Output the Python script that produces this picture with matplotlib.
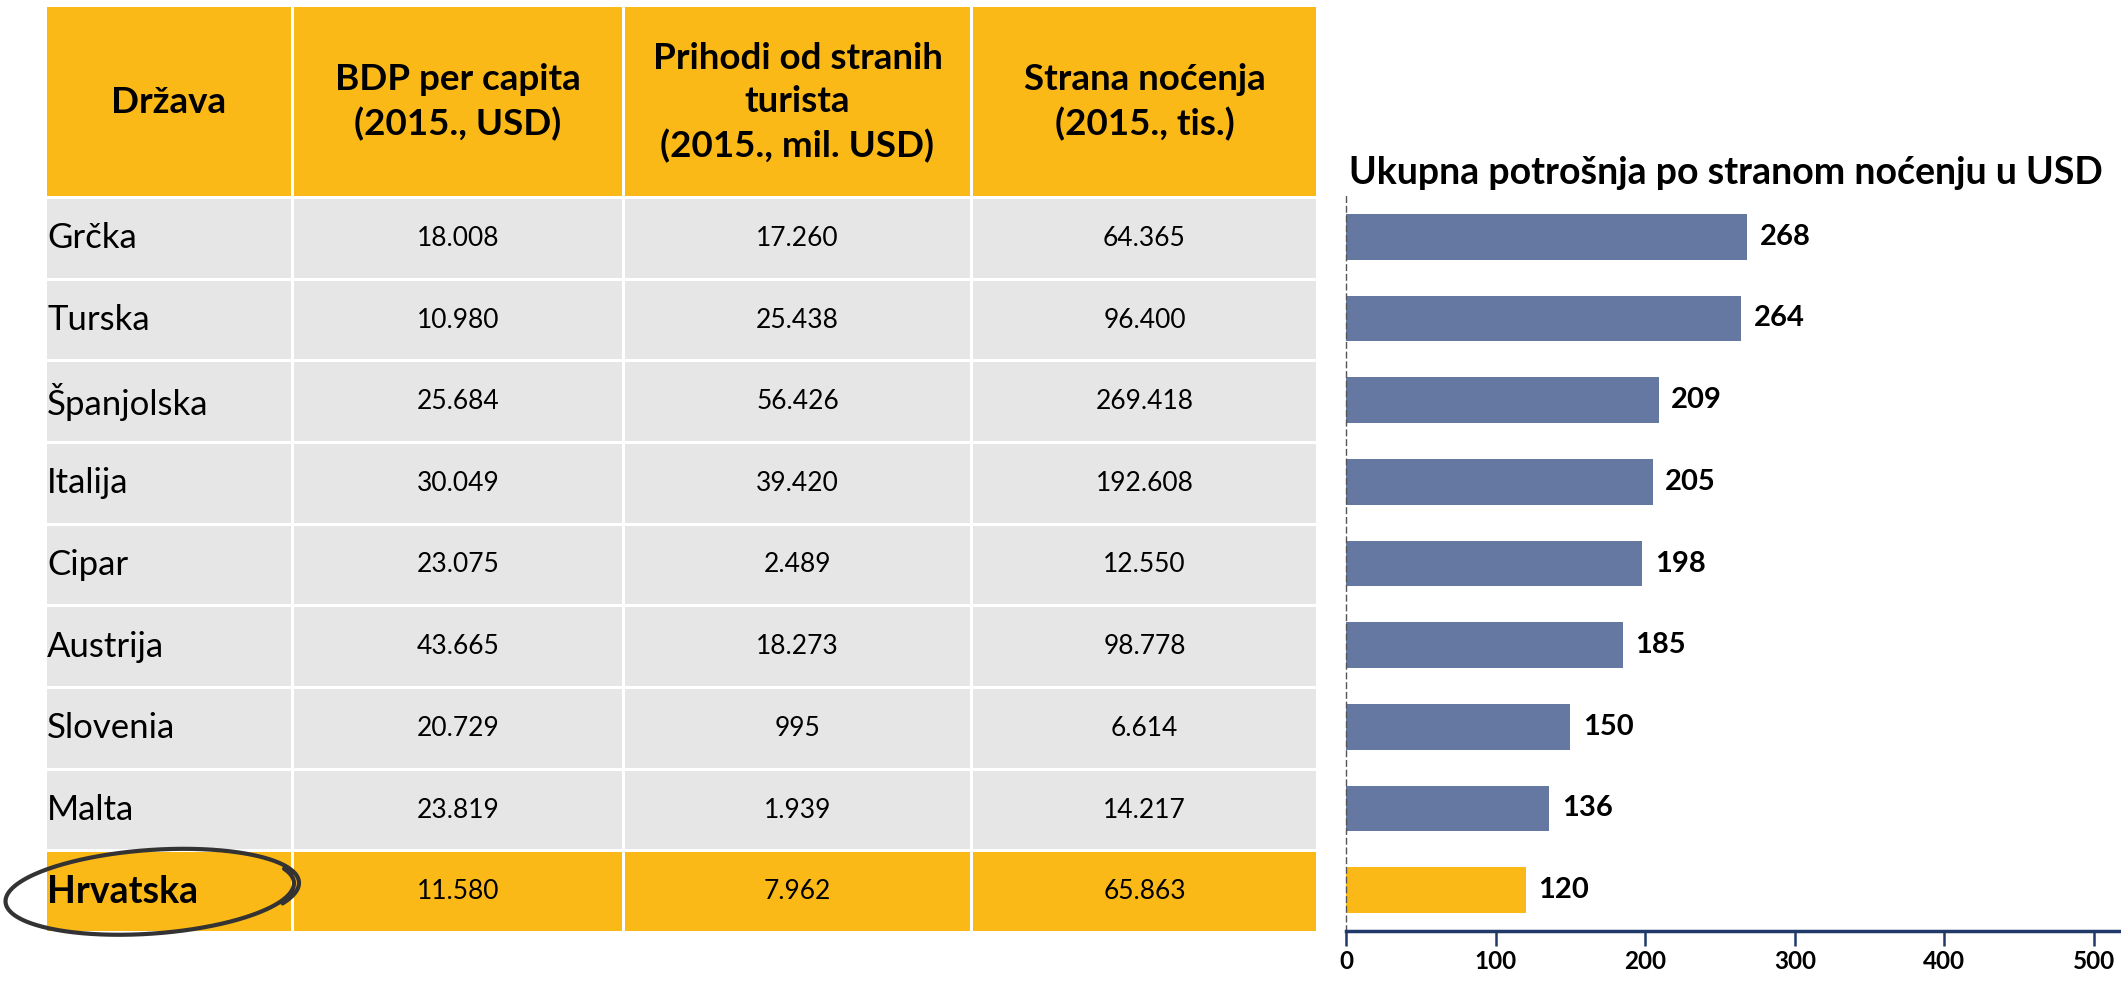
"""
Tourism table + bar chart of spending per foreign overnight stay.
Saves: out.png
"""

import numpy as np
import matplotlib.pyplot as plt
from matplotlib.patches import Rectangle

plt.rcParams["font.family"] = ["Lato", "DejaVu Sans"]

# ── data ──────────────────────────────────────────────────────────────────────
countries = ["Grčka", "Turska", "Španjolska", "Italija", "Cipar",
             "Austrija", "Slovenia", "Malta", "Hrvatska"]
gdp_pc    = [18008, 10980, 25684, 30049, 23075, 43665, 20729, 23819, 11580]
revenue   = [17260, 25438, 56426, 39420, 2489, 18273, 995, 1939, 7962]
nights    = [64365, 96400, 269418, 192608, 12550, 98778, 6614, 14217, 65863]
spend     = [268, 264, 209, 205, 198, 185, 150, 136, 120]

headers = ["Država",
           "BDP per capita\n(2015., USD)",
           "Prihodi od stranih\nturista\n(2015., mil. USD)",
           "Strana noćenja\n(2015., tis.)"]
chart_title = "Ukupna potrošnja po stranom noćenju u USD"
x_ticks = [0, 100, 200, 300, 400, 500]

# ── colours ───────────────────────────────────────────────────────────────────
YELLOW = "#FBB917"
GREY   = "#E6E6E6"
BAR    = "#6578A2"
NAVY   = "#1F3A68"

W, H = 2121, 981
fig = plt.figure(figsize=(W / 100, H / 100), dpi=100)

# ── table, drawn in pixel coordinates ─────────────────────────────────────────
ax_t = fig.add_axes([0, 0, 1, 1])
ax_t.set_xlim(0, W)
ax_t.set_ylim(H, 0)
ax_t.axis("off")

col_edges = [47, 291, 622, 970, 1316]
head_top, head_bot = 7, 196
row_h = (931 - head_bot) / len(countries)
GAP = 3


def fmt(v):
    return f"{v:,}".replace(",", ".")


# header
for c in range(4):
    x0, x1 = col_edges[c] + (GAP if c else 0), col_edges[c + 1]
    ax_t.add_patch(Rectangle((x0, head_top), x1 - x0, head_bot - head_top,
                             fc=YELLOW, ec="none"))
    ax_t.text((x0 + x1) / 2, (head_top + head_bot) / 2 + 1, headers[c],
              ha="center", va="center", fontsize=26.5, fontweight="bold",
              linespacing=1.38)

# body rows
for i, name in enumerate(countries):
    last = i == len(countries) - 1
    y0 = head_bot + GAP + i * row_h
    y1 = head_bot + (i + 1) * row_h
    fc = YELLOW if last else GREY
    cells = [name, fmt(gdp_pc[i]), fmt(revenue[i]), fmt(nights[i])]
    for c in range(4):
        x0, x1 = col_edges[c] + (GAP if c else 0), col_edges[c + 1]
        ax_t.add_patch(Rectangle((x0, y0), x1 - x0, y1 - y0, fc=fc, ec="none"))
        ym = (y0 + y1) / 2
        if c == 0:
            ax_t.text(x0, ym, cells[c], ha="left", va="center",
                      fontsize=27 if last else 25,
                      fontweight="bold" if last else "normal")
        else:
            ax_t.text((x0 + x1) / 2, ym, cells[c], ha="center", va="center",
                      fontsize=19)

# hand-drawn ring round the highlighted country
cx, cy = 151, head_bot + 8.5 * row_h + 2
t = np.linspace(-0.35, 2 * np.pi + 0.5, 300)
grow = 1 + 0.04 * (t - t[0]) / (t[-1] - t[0])
rot = np.deg2rad(-4)
ex = 143 * grow * np.cos(t)
ey = 41 * grow * np.sin(t)
ax_t.plot(cx + ex * np.cos(rot) - ey * np.sin(rot),
          cy + ex * np.sin(rot) + ey * np.cos(rot),
          color="#333333", lw=3, solid_capstyle="round", zorder=5)

# ── bar chart ─────────────────────────────────────────────────────────────────
left, right, top, bot = 1346, W, 196, 931
ax = fig.add_axes([left / W, 1 - bot / H, (right - left) / W, (bot - top) / H])
ax.patch.set_alpha(0)

y = np.arange(len(spend))
colors = [BAR] * (len(spend) - 1) + [YELLOW]
bars = ax.barh(y, spend, height=0.56, color=colors)
for b, v in zip(bars, spend):
    ax.annotate(str(v), (b.get_width(), b.get_y() + b.get_height() / 2),
                xytext=(9, 0), textcoords="offset points",
                ha="left", va="center", fontsize=21, fontweight="bold")

ax.set_ylim(len(spend) - 0.5, -0.5)
ax.set_xlim(0, (right - left) / 1.496)
ax.set_yticks([])
ax.set_xticks(x_ticks)
ax.set_xticklabels([str(v) for v in x_ticks], fontsize=17.5, fontweight="bold")
ax.tick_params(axis="x", direction="out", length=11, width=1.8, color=NAVY, pad=3)

for s in ("top", "right"):
    ax.spines[s].set_visible(False)
ax.spines["bottom"].set_color(NAVY)
ax.spines["bottom"].set_linewidth(2.5)
ax.spines["left"].set_linestyle((0, (4, 3)))
ax.spines["left"].set_color("#555555")
ax.spines["left"].set_linewidth(1)

fig.text(1349 / W, 1 - 173 / H, chart_title, ha="left", va="center",
         fontsize=27, fontweight="bold")

fig.savefig("out.png", dpi=100)
